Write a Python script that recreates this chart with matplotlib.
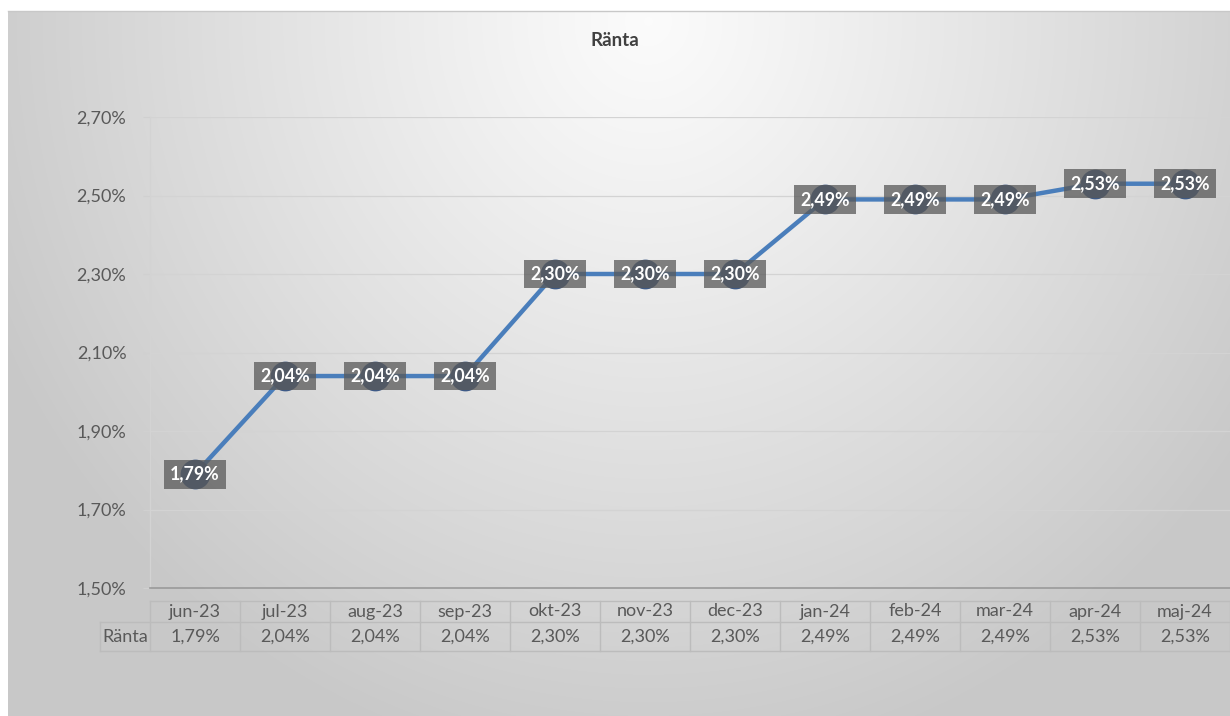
import numpy as np
import matplotlib
matplotlib.use("Agg")
import matplotlib.pyplot as plt
from matplotlib.transforms import blended_transform_factory

months = ["jun-23", "jul-23", "aug-23", "sep-23", "okt-23", "nov-23",
          "dec-23", "jan-24", "feb-24", "mar-24", "apr-24", "maj-24"]
ranta = [1.79, 2.04, 2.04, 2.04, 2.30, 2.30, 2.30, 2.49, 2.49, 2.49, 2.53, 2.53]
yticks = [1.50, 1.70, 1.90, 2.10, 2.30, 2.50, 2.70]
series_name = "Ränta"
title = "Ränta"

def fmt(v):
    return f"{v:.2f}".replace(".", ",") + "%"

plt.rcParams["font.family"] = ["Lato", "DejaVu Sans"]

W, H = 1230, 716
fig = plt.figure(figsize=(W / 100, H / 100), dpi=100)
fig.patch.set_facecolor("white")

# background gradient (chart area)
bx0, by0 = 8, 11
bg = fig.add_axes([bx0 / W, 0, 1 - bx0 / W, 1 - by0 / H])
bg.set_axis_off()
gw, gh = W - bx0, H - by0
yy, xx = np.mgrid[0:gh, 0:gw]
cx, cy = 640, 10
d = np.sqrt(((xx - cx) / 720.0) ** 2 + ((yy - cy) / 760.0) ** 2)
d = np.clip(d, 0, 1)
v = 0.985 - 0.20 * d ** 1.1
img = np.dstack([v, v, v])
bg.imshow(img, aspect="auto", extent=[0, 1, 0, 1], origin="upper")
bg.set_xlim(0, 1)
bg.set_ylim(0, 1)
fig.add_artist(plt.Line2D([bx0 / W, 1], [1 - by0 / H, 1 - by0 / H],
                          transform=fig.transFigure, color="#c8c8c8", lw=1))

# main axes
px0, px1, py_top, py_bot = 150, 1230, 117, 588
ax = fig.add_axes([px0 / W, 1 - py_bot / H, (px1 - px0) / W, (py_bot - py_top) / H])
ax.set_facecolor("none")
x = np.arange(len(months))
ax.set_xlim(-0.5, len(months) - 0.5)
ax.set_ylim(yticks[0], yticks[-1])
ax.set_yticks(yticks)
ax.set_yticklabels([fmt(t) for t in yticks], fontsize=13, color="#595959")
ax.set_xticks([])
ax.tick_params(axis="y", length=5, width=0.8, color="#d0d0d0", pad=12)
for t in yticks[1:]:
    ax.axhline(t, color="#d3d3d3", lw=0.9, zorder=1)
ax.spines["top"].set_visible(False)
ax.spines["right"].set_visible(False)
ax.spines["left"].set_color("#d3d3d3")
ax.spines["left"].set_linewidth(0.9)
ax.spines["bottom"].set_color("#9a9a9a")
ax.spines["bottom"].set_linewidth(1.2)

ax.plot(x, ranta, color="#4a7ebb", lw=3.2, zorder=3, solid_capstyle="round")
ax.scatter(x, ranta, s=460, color="#3e5a86", zorder=4, linewidths=0)
for xi, yi in zip(x, ranta):
    ax.text(xi, yi, fmt(yi), ha="center", va="center", fontsize=12.8,
            fontweight="bold", color="white", zorder=5,
            bbox=dict(boxstyle="square,pad=0.33", fc="#595959", alpha=0.75, ec="none"))

fig.text(615 / W, 1 - 41 / H, title, ha="center", va="center", fontsize=13.5,
         fontweight="bold", color="#404040")

# data table
tr = blended_transform_factory(ax.transData, fig.transFigure)
def fy(p):
    return 1 - p / H
y_head_top, y_mid, y_bot = 601, 622, 651
lc = "#bcbcbc"
label_left = -0.5 - 50 / 90.0
ax.add_line(plt.Line2D([-0.5, len(months) - 0.5], [fy(y_head_top)] * 2, transform=tr,
                       color=lc, lw=1, clip_on=False))
ax.add_line(plt.Line2D([label_left, len(months) - 0.5], [fy(y_mid)] * 2, transform=tr,
                       color=lc, lw=1, clip_on=False))
ax.add_line(plt.Line2D([label_left, len(months) - 0.5], [fy(y_bot)] * 2, transform=tr,
                       color=lc, lw=1, clip_on=False))
for i in range(len(months) + 1):
    xb = i - 0.5
    ax.add_line(plt.Line2D([xb, xb], [fy(y_head_top), fy(y_bot)], transform=tr,
                           color=lc, lw=1, clip_on=False))
ax.add_line(plt.Line2D([label_left, label_left], [fy(y_mid), fy(y_bot)], transform=tr,
                       color=lc, lw=1, clip_on=False))
for i, (m, val) in enumerate(zip(months, ranta)):
    ax.text(i, fy((y_head_top + y_mid) / 2), m, transform=tr, ha="center", va="center",
            fontsize=13, color="#595959", clip_on=False)
    ax.text(i, fy((y_mid + y_bot) / 2), fmt(val), transform=tr, ha="center", va="center",
            fontsize=13, color="#595959", clip_on=False)
ax.text((label_left - 0.5) / 2, fy((y_mid + y_bot) / 2), series_name, transform=tr,
        ha="center", va="center", fontsize=13, color="#595959", clip_on=False)

fig.savefig("out.png", dpi=100)
